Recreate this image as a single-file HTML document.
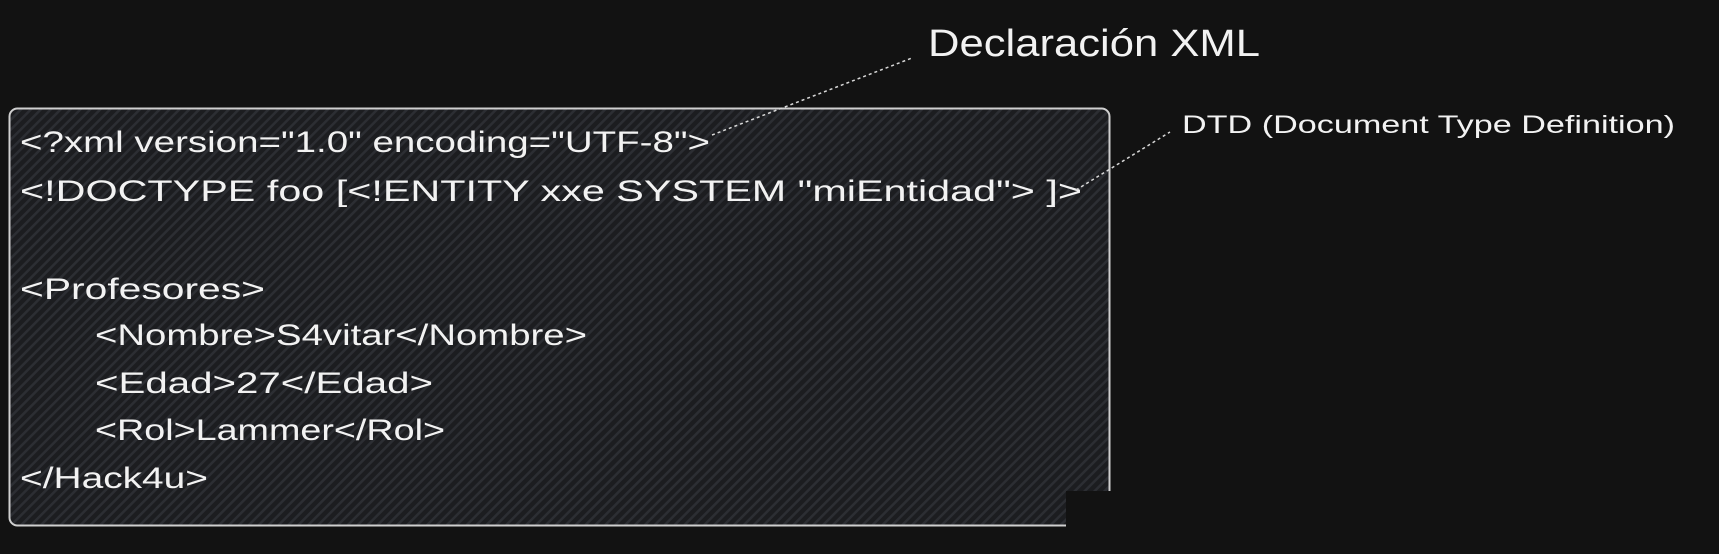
<!DOCTYPE html>
<html><head><style>
html,body{margin:0;padding:0;background:#121212;}
svg{display:block}
text{font-family:"Liberation Sans",sans-serif;fill:#f2f2f2;}
</style></head><body>
<svg width="1719" height="554" viewBox="0 0 1719 554">
<defs>
<pattern id="h" width="7" height="7" patternUnits="userSpaceOnUse" patternTransform="rotate(45)">
<rect width="7" height="7" fill="#1c1d20"/>
<rect width="2.5" height="7" fill="#2c2e33"/>
</pattern>
</defs>
<rect x="0" y="0" width="1719" height="554" fill="#121212"/>
<rect x="9.5" y="108.5" width="1100" height="417" rx="8" fill="url(#h)" stroke="#cfcfcf" stroke-width="2"/>
<rect x="1066" y="491" width="60" height="50" fill="#121212"/>
<g font-size="30">
<text x="20" y="152" textLength="690" lengthAdjust="spacingAndGlyphs">&lt;?xml version="1.0" encoding="UTF-8"&gt;</text>
<text x="20" y="201" textLength="1062" lengthAdjust="spacingAndGlyphs">&lt;!DOCTYPE foo [&lt;!ENTITY xxe SYSTEM "miEntidad"&gt; ]&gt;</text>
<text x="20" y="299" textLength="245" lengthAdjust="spacingAndGlyphs">&lt;Profesores&gt;</text>
<text x="95" y="345" textLength="492" lengthAdjust="spacingAndGlyphs">&lt;Nombre&gt;S4vitar&lt;/Nombre&gt;</text>
<text x="95" y="393" textLength="338" lengthAdjust="spacingAndGlyphs">&lt;Edad&gt;27&lt;/Edad&gt;</text>
<text x="95" y="440" textLength="350" lengthAdjust="spacingAndGlyphs">&lt;Rol&gt;Lammer&lt;/Rol&gt;</text>
<text x="20" y="488" textLength="188" lengthAdjust="spacingAndGlyphs">&lt;/Hack4u&gt;</text>
</g>
<text x="928" y="56" font-size="38" textLength="332" lengthAdjust="spacingAndGlyphs">Declaración XML</text>
<text x="1182" y="133" font-size="25" textLength="493" lengthAdjust="spacingAndGlyphs">DTD (Document Type Definition)</text>
<g stroke="#d8d8d8" stroke-width="1.5" stroke-dasharray="3 3" fill="none">
<line x1="712" y1="135" x2="912" y2="58"/>
<line x1="1076" y1="190" x2="1170" y2="132"/>
</g>
</svg>
</body></html>
